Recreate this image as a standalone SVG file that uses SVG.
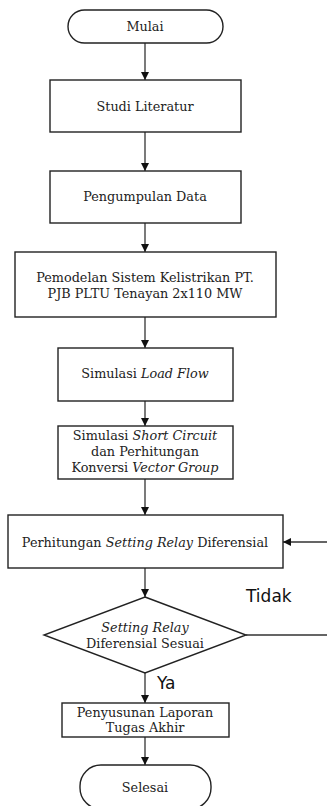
<svg xmlns="http://www.w3.org/2000/svg" width="327" height="806" viewBox="0 0 327 806">
<style>
.b{fill:#fff;stroke:#222;stroke-width:1.4}
.t{font-family:"DejaVu Serif","Liberation Serif",serif;font-size:12.8px;fill:#222;text-anchor:middle}
.i{font-style:italic}
.s{font-family:"DejaVu Sans","Open Sans",sans-serif;font-size:17px;fill:#111}
.c{fill:none;stroke:#333;stroke-width:1.3}
</style>
<defs>
<marker id="ah" viewBox="0 0 10 10" refX="10" refY="5" markerWidth="8" markerHeight="8" markerUnits="userSpaceOnUse" orient="auto">
<path d="M0,0 L10,5 L0,10 Z" fill="#111"/>
</marker>
</defs>
<rect width="327" height="806" fill="#fff"/>
<g id="connectors">
<line class="c" x1="145" y1="43" x2="145" y2="80" marker-end="url(#ah)"/>
<line class="c" x1="145" y1="132" x2="145" y2="171" marker-end="url(#ah)"/>
<line class="c" x1="145" y1="223" x2="145" y2="252" marker-end="url(#ah)"/>
<line class="c" x1="145" y1="317" x2="145" y2="348" marker-end="url(#ah)"/>
<line class="c" x1="145" y1="401" x2="145" y2="426" marker-end="url(#ah)"/>
<line class="c" x1="145" y1="479" x2="145" y2="515" marker-end="url(#ah)"/>
<line class="c" x1="145" y1="568" x2="145" y2="597" marker-end="url(#ah)"/>
<line class="c" x1="145" y1="673" x2="145" y2="703" marker-end="url(#ah)"/>
<line class="c" x1="145" y1="737" x2="145" y2="765" marker-end="url(#ah)"/>
<path class="c" d="M246,635 H332 V542 H283" marker-end="url(#ah)"/>
<text class="s" x="246" y="602">Tidak</text>
<text class="s" x="157" y="689">Ya</text>
</g>
<g id="mulai">
<rect class="b" x="68" y="10" width="155" height="33" rx="16.5"/>
<text class="t" x="145" y="31">Mulai</text>
</g>
<g id="studi">
<rect class="b" x="50" y="80" width="191" height="52"/>
<text class="t" x="145" y="111">Studi Literatur</text>
</g>
<g id="pengumpulan">
<rect class="b" x="50" y="171" width="191" height="52"/>
<text class="t" x="145" y="201">Pengumpulan Data</text>
</g>
<g id="pemodelan">
<rect class="b" x="15" y="252" width="261" height="65"/>
<text class="t" x="145" y="282">Pemodelan Sistem Kelistrikan PT.</text>
<text class="t" x="145" y="298">PJB PLTU Tenayan 2x110 MW</text>
</g>
<g id="loadflow">
<rect class="b" x="58" y="348" width="175" height="53"/>
<text class="t" x="145" y="378">Simulasi <tspan class="i">Load Flow</tspan></text>
</g>
<g id="shortcircuit">
<rect class="b" x="58" y="426" width="175" height="53"/>
<text class="t" x="145" y="440">Simulasi <tspan class="i">Short Circuit</tspan></text>
<text class="t" x="145" y="456">dan Perhitungan</text>
<text class="t" x="145" y="472">Konversi <tspan class="i">Vector  Group</tspan></text>
</g>
<g id="perhitungan">
<rect class="b" x="8" y="515" width="275" height="53"/>
<text class="t" x="145" y="547">Perhitungan <tspan class="i">Setting Relay</tspan> Diferensial</text>
</g>
<g id="keputusan">
<polygon class="b" points="145,597 246,635 145,673 44,635"/>
<text class="t i" x="145" y="632">Setting Relay</text>
<text class="t" x="145" y="648">Diferensial Sesuai</text>
</g>
<g id="penyusunan">
<rect class="b" x="62" y="703" width="167" height="34"/>
<text class="t" x="145" y="717">Penyusunan Laporan</text>
<text class="t" x="145" y="732">Tugas Akhir</text>
</g>
<g id="selesai">
<rect class="b" x="80" y="765" width="131" height="44" rx="21"/>
<text class="t" x="145" y="792">Selesai</text>
</g>
</svg>
